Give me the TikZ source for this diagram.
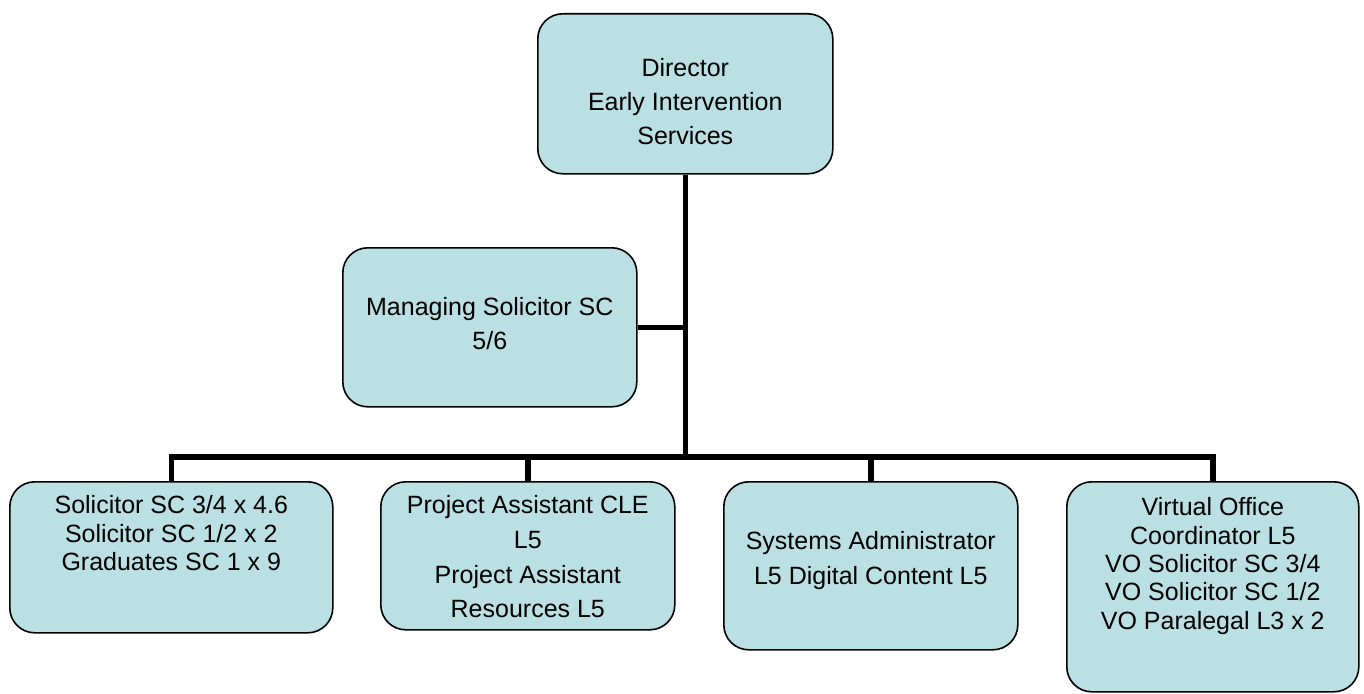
\documentclass[tikz,border=0pt]{standalone}
\usepackage{fontspec}
\setmainfont{Liberation Sans}
\definecolor{boxfill}{RGB}{187,224,227}
\newcommand{\boxtxt}[5]{\parbox[c][#2pt][t]{#1pt}{\centering\fontsize{25}{#4}\selectfont\rule{0pt}{#3pt}#5\par}}
\tikzset{
  orgbox/.style={draw=black, line width=1.6pt, fill=boxfill, rounded corners=25pt, inner sep=0pt, anchor=north west, text=black},
  conn/.style={draw=black, line width=5.6pt, line join=miter, line cap=butt}
}
\begin{document}
\begin{tikzpicture}[x=1pt,y=-1pt]
\useasboundingbox (0,0) rectangle (1364,693);
\node[orgbox] (top) at (537,13) {\boxtxt{295}{160}{63}{34}{Director\\Early Intervention\\Services}};
\node[orgbox] (mgr) at (342,247) {\boxtxt{294}{159}{68}{34}{Managing Solicitor SC\\5/6}};
\node[orgbox] (b1) at (9,481) {\boxtxt{323}{151}{32}{28.3}{Solicitor SC 3/4 x 4.6\\Solicitor SC 1/2 x 2\\Graduates SC 1 x 9}};
\node[orgbox] (b2) at (380,481) {\boxtxt{294}{148}{32}{34.7}{Project Assistant CLE\\L5\\Project Assistant\\Resources L5}};
\node[orgbox] (b3) at (723,481) {\boxtxt{294}{168}{68}{35}{Systems Administrator\\L5 Digital Content L5}};
\node[orgbox] (b4) at (1066,481) {\boxtxt{292}{210}{34}{28.3}{Virtual Office\\Coordinator L5\\VO Solicitor SC 3/4\\VO Solicitor SC 1/2\\VO Paralegal L3 x 2}};
\coordinate (bus) at (684,457);
\draw[conn] (top.south) -- (top.south |- bus);
\draw[conn] (b1.north) |- (bus) -| (b4.north);
\draw[conn] (b2.north) -- (b2.north |- bus);
\draw[conn] (b3.north) -- (b3.north |- bus);
\draw[conn] (mgr.east) -- (mgr.east -| bus);
\end{tikzpicture}
\end{document}
